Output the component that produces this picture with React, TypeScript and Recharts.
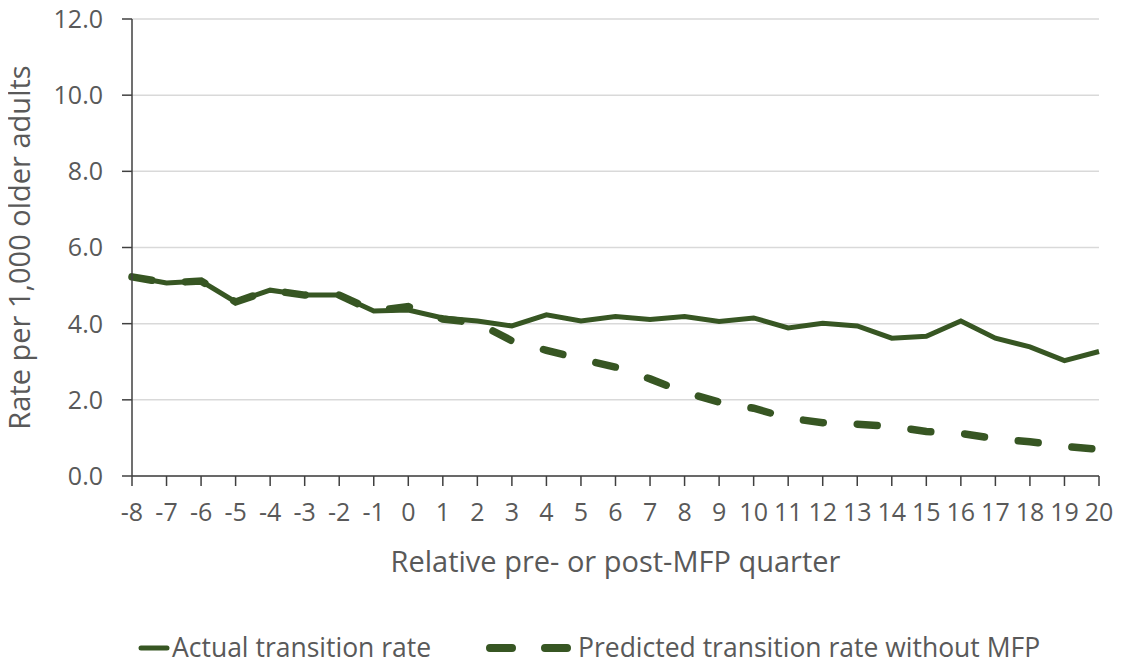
import { LineChart, Line, XAxis, YAxis, CartesianGrid } from 'recharts';

// relative pre-/post-MFP quarter
const quarters = [-8, -7, -6, -5, -4, -3, -2, -1, 0, 1, 2, 3, 4, 5, 6, 7, 8, 9, 10, 11, 12, 13, 14, 15, 16, 17, 18, 19, 20];

// rate per 1,000 older adults
const actualRate = [5.23, 5.07, 5.12, 4.57, 4.88, 4.75, 4.75, 4.33, 4.36, 4.15, 4.07, 3.94, 4.23, 4.07, 4.19, 4.11, 4.19, 4.06, 4.15, 3.89, 4.01, 3.94, 3.62, 3.67, 4.07, 3.62, 3.39, 3.03, 3.27];
const predictedRate = [5.23, 5.07, 5.12, 4.57, 4.88, 4.75, 4.75, 4.33, 4.45, 4.12, 4.02, 3.55, 3.3, 3.07, 2.86, 2.55, 2.2, 1.94, 1.78, 1.52, 1.4, 1.36, 1.3, 1.17, 1.12, 0.98, 0.9, 0.78, 0.7];

const yTicks = [0, 2, 4, 6, 8, 10, 12];

const data = quarters.map((q, i) => ({
    quarter: q,
    actual: actualRate[i],
    predicted: predictedRate[i],
}));

const GREEN = '#375623';
const TEXT = '#595959';
const AXIS = '#404040';
const FONT = "'Open Sans', sans-serif";

const legendRow = {
    position: 'absolute' as const,
    top: 632,
    height: 32,
    display: 'flex',
    alignItems: 'center',
    color: TEXT,
    fontSize: 26.5,
    lineHeight: 1.2,
    whiteSpace: 'nowrap' as const,
};

export default function App() {
    return (
        // pull back the body's 8px margin so the chart sits at the page corner
        <div style={{ position: 'relative', width: 1121, height: 664, margin: '-8px 0 0 -8px', fontFamily: FONT }}>
            <LineChart width={1121} height={664} data={data} margin={{ top: 19, right: 22, left: 0, bottom: 88 }}>
                <CartesianGrid vertical={false} stroke="#d9d9d9" strokeWidth={1.5} />
                <XAxis
                    dataKey="quarter"
                    height={100}
                    interval={0}
                    tickSize={10}
                    tickMargin={17}
                    tick={{ fill: TEXT, fontSize: 25, fontFamily: FONT }}
                    axisLine={{ stroke: AXIS, strokeWidth: 1.5 }}
                    tickLine={{ stroke: AXIS, strokeWidth: 1.5 }}
                    label={{ value: 'Relative pre- or post-MFP quarter', position: 'insideBottom', offset: 4, fill: TEXT, fontSize: 29, fontFamily: FONT }}
                />
                <YAxis
                    width={132}
                    domain={[0, 12]}
                    ticks={yTicks}
                    interval={0}
                    tickSize={10}
                    tickMargin={19}
                    tickFormatter={(v: number) => v.toFixed(1)}
                    tick={{ fill: TEXT, fontSize: 25, fontFamily: FONT }}
                    axisLine={{ stroke: AXIS, strokeWidth: 1.5 }}
                    tickLine={{ stroke: AXIS, strokeWidth: 1.5 }}
                    label={{
                        value: 'Rate per 1,000 older adults',
                        angle: -90,
                        position: 'insideLeft',
                        offset: 20,
                        fill: TEXT,
                        fontSize: 29,
                        fontFamily: FONT,
                        style: { textAnchor: 'middle' },
                    }}
                />
                <Line
                    type="linear"
                    dataKey="predicted"
                    stroke={GREEN}
                    strokeWidth={7.5}
                    strokeDasharray="20 34"
                    strokeLinecap="round"
                    dot={false}
                    isAnimationActive={false}
                />
                <Line
                    type="linear"
                    dataKey="actual"
                    stroke={GREEN}
                    strokeWidth={5}
                    dot={false}
                    isAnimationActive={false}
                />
            </LineChart>
            {/* legend */}
            <div style={{ ...legendRow, left: 138 }}>
                <svg width={32} height={12}>
                    <line x1={3} y1={6} x2={29} y2={6} stroke={GREEN} strokeWidth={5} strokeLinecap="round" />
                </svg>
                <span style={{ marginLeft: 2 }}>Actual transition rate</span>
            </div>
            <div style={{ ...legendRow, left: 482 }}>
                <svg width={94} height={14}>
                    <line x1={8} y1={7} x2={88} y2={7} stroke={GREEN} strokeWidth={8} strokeLinecap="round" strokeDasharray="22 33" />
                </svg>
                <span style={{ marginLeft: 2 }}>Predicted transition rate without MFP</span>
            </div>
        </div>
    );
}
